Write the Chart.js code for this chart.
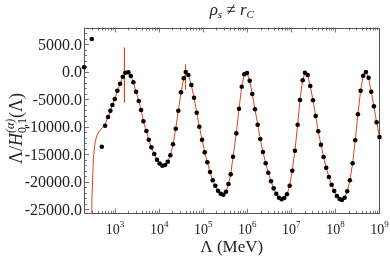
<!DOCTYPE html>
<html>
<head>
<meta charset="utf-8">
<script src="https://cdn.jsdelivr.net/npm/chart.js@4.4.1/dist/chart.umd.min.js"></script>
<style>
  html, body { margin: 0; padding: 0; background: #fff; }
  #wrap { width: 390px; height: 256px; }
</style>
</head>
<body>
<div id="wrap"><canvas id="chart" width="390" height="256"></canvas></div>
<script>
// Lambda / H(Lambda) oscillation plot: black sample points over a red curve, log x axis.

const X_MIN = 197;
const X_MAX = 1e9;
const Y_MIN = -25850;
const Y_MAX = 8070;
const Y_TICKS = [5000, 0, -5000, -10000, -15000, -20000, -25000];
const X_DECADES = [3, 4, 5, 6, 7, 8, 9];

// sampled points (black dots)
const DOT_X = [
  198, 297, 499,
  593, 693, 782, 869, 984, 1127, 1297, 1495, 1713, 2003, 2271, 2601, 2994, 3446, 3888, 4385,
  5130, 5812, 6656, 7740, 8910, 10210, 11830, 13620, 15670, 17950, 20660, 23780, 27230,
  31380, 36130, 40100, 45920, 53720, 61820, 71220, 81570, 93960, 108200, 123900, 142600,
  164200, 188000, 216500, 249300, 285600, 328800, 374800, 420600, 474700, 563800, 649000,
  747100, 855600, 984900, 1133000, 1298000, 1495000, 1721000, 1971000, 2270000, 2614000,
  2994000, 3446000, 3968000, 4547000, 5236000, 6029000, 6904000, 7945000, 9150000,
  10480000, 12070000, 13900000, 15670000, 18040000, 20330000, 23420000, 26830000,
  30900000, 35580000, 40740000, 46910000, 53970000, 61800000, 71220000, 82020000,
  93970000, 108200000, 124500000, 140300000, 161700000, 185300000, 213300000, 245500000,
  281200000, 323700000, 372700000, 426700000, 491800000, 566200000, 648900000, 746500000,
  859000000, 1000000000,
];
const DOT_Y = [
  820, 5980, -13650,
  -9820, -8240, -7090, -6050, -4960, -3440, -2170, -890, -160, -90, -770, -1910, -3630, -5320, -6960, -9020,
  -10790, -12370, -13760, -14980, -16020, -16710, -17110, -16980, -16380, -15210, -13210, -10370, -7090,
  -3740, -1180, -40, -580, -2410, -4720, -7450, -10000, -12370, -14670, -16490, -18260,
  -19770, -20750, -21660, -22210, -22390, -21850, -20440, -18680, -15470, -11210, -6720,
  -2720, -460, -220, -1620, -4050, -6830, -9640, -12240, -14610, -16670,
  -18380, -19950, -21230, -22210, -22940, -23230, -22990, -22320, -20750,
  -18020, -14380, -9640, -5140, -1550, -160, -580, -2590,
  -5190, -8050, -10840, -13280, -15520, -17470, -19170, -20570,
  -21720, -22630, -23180, -23360, -22940, -21770, -19770, -16670,
  -12480, -7740, -3440, -710, -40, -1080, -3630, -6290,
  -9200, -11900,
];

// continuous curve (red line), including the steep left branch and the two spikes
const LINE_X = [
  287, 297, 309, 322, 352, 391, 457, 521,
  593, 693, 782, 869, 984, 1127, 1297, 1495,
  1626, 1626, 1626, 1630,
  1713, 2003, 2271, 2601, 2994, 3446, 3888, 4385,
  5130, 5812, 6656, 7740, 8910, 10210, 11830, 13620, 15670, 17950, 20660, 23780, 27230,
  31380, 36130,
  39500, 39500, 39500, 39700,
  40100, 45920, 53720, 61820, 71220, 81570, 93960, 108200, 123900, 142600,
  164200, 188000, 216500, 249300, 285600, 328800, 374800, 420600, 474700, 563800, 649000,
  747100, 855600, 984900, 1133000, 1298000, 1495000, 1721000, 1971000, 2270000, 2614000,
  2994000, 3446000, 3968000, 4547000, 5236000, 6029000, 6904000, 7945000, 9150000,
  10480000, 12070000, 13900000, 15670000, 18040000, 20330000, 23420000, 26830000,
  30900000, 35580000, 40740000, 46910000, 53970000, 61800000, 71220000, 82020000,
  93970000, 108200000, 124500000, 140300000, 161700000, 185300000, 213300000, 245500000,
  281200000, 323700000, 372700000, 426700000, 491800000, 566200000, 648900000, 746500000,
  859000000, 1000000000,
];
const LINE_Y = [
  -30000, -23360, -19710, -15710, -12790, -11520, -10600, -10150,
  -9600, -8240, -7090, -6050, -4960, -3440, -2170, -890,
  -500, 4400, -5600, -400,
  -160, -90, -770, -1910, -3630, -5320, -6960, -9020,
  -10790, -12370, -13760, -14980, -16020, -16710, -17110, -16980, -16380, -15210, -13210, -10370, -7090,
  -3740, -1180,
  -400, 1350, -3200, -300,
  -40, -580, -2410, -4720, -7450, -10000, -12370, -14670, -16490, -18260,
  -19770, -20750, -21660, -22210, -22390, -21850, -20440, -18680, -15470, -11210, -6720,
  -2720, -460, -220, -1620, -4050, -6830, -9640, -12240, -14610, -16670,
  -18380, -19950, -21230, -22210, -22940, -23230, -22990, -22320, -20750,
  -18020, -14380, -9640, -5140, -1550, -160, -580, -2590,
  -5190, -8050, -10840, -13280, -15520, -17470, -19170, -20570,
  -21720, -22630, -23180, -23360, -22940, -21770, -19770, -16670,
  -12480, -7740, -3440, -710, -40, -1080, -3630, -6290,
  -9200, -11900,
];

const SERIF = '"Liberation Serif", "Times New Roman", serif';
const FRAME = "#555";
const TICK = "#777";
const RED = "#e4431f";

const toPoints = (xs, ys) => xs.map((x, i) => ({ x, y: ys[i] }));

// width of a list of text runs; a run may carry a stacked sub/superscript
function runsWidth(ctx, runs) {
  let w = 0;
  for (const r of runs) {
    ctx.font = r.font;
    let adv = ctx.measureText(r.t).width;
    if (r.stack) {
      ctx.font = r.stack.font;
      adv = Math.max(adv, ctx.measureText(r.stack.t).width);
    }
    w += adv;
  }
  return w;
}

function drawRuns(ctx, runs, x, base) {
  for (const r of runs) {
    ctx.font = r.font;
    ctx.fillText(r.t, x, base + (r.dy || 0));
    let adv = ctx.measureText(r.t).width;
    if (r.stack) {
      ctx.font = r.stack.font;
      ctx.fillText(r.stack.t, x, base + r.stack.dy);
      adv = Math.max(adv, ctx.measureText(r.stack.t).width);
    }
    x += adv;
  }
}

function drawCentered(ctx, runs, cx, base) {
  drawRuns(ctx, runs, cx - runsWidth(ctx, runs) / 2, base);
}

const axesPlugin = {
  id: "axesPlugin",
  beforeDatasetsDraw(chart) {
    const { ctx, chartArea: a, scales: { x, y } } = chart;
    ctx.save();
    ctx.strokeStyle = TICK;
    ctx.lineWidth = 1;
    ctx.beginPath();
    // log x ticks, bottom and top, pointing inward
    for (let e = 2; e <= 8; e++) {
      for (let m = 1; m <= 9; m++) {
        const v = m * Math.pow(10, e);
        if (v < X_MIN || v > X_MAX) continue;
        const len = m === 1 ? 5 : 3;
        const px = Math.round(x.getPixelForValue(v)) + 0.5;
        ctx.moveTo(px, a.bottom); ctx.lineTo(px, a.bottom - len);
        ctx.moveTo(px, a.top); ctx.lineTo(px, a.top + len);
      }
    }
    // y ticks every 1000, major every 5000
    for (let v = -25000; v <= 8000; v += 1000) {
      const len = v % 5000 === 0 ? 5 : 3;
      const py = Math.round(y.getPixelForValue(v)) + 0.5;
      ctx.moveTo(a.left, py); ctx.lineTo(a.left + len, py);
    }
    ctx.stroke();
    ctx.strokeStyle = FRAME;
    ctx.strokeRect(Math.round(a.left) + 0.5, Math.round(a.top) + 0.5,
      Math.round(a.right - a.left) - 1, Math.round(a.bottom - a.top) - 1);
    ctx.restore();
  },
  afterDraw(chart) {
    const { ctx, chartArea: a, scales: { x, y } } = chart;
    ctx.save();
    ctx.fillStyle = "#222";
    ctx.textBaseline = "alphabetic";

    // y tick labels
    ctx.font = `16px ${SERIF}`;
    ctx.textAlign = "right";
    for (const v of Y_TICKS) {
      ctx.fillText(v.toFixed(1), a.left - 2, y.getPixelForValue(v) + 5.5);
    }

    // x tick labels 10^n
    ctx.textAlign = "left";
    for (const e of X_DECADES) {
      const px = x.getPixelForValue(Math.pow(10, e));
      drawCentered(ctx, [
        { t: "10", font: `14px ${SERIF}` },
        { t: String(e), font: `9px ${SERIF}`, dy: -7 },
      ], px, 234);
    }

    // x axis title
    drawCentered(ctx, [{ t: "\u039B (MeV)", font: `17px ${SERIF}` }], (a.left + a.right) / 2, 252);

    // chart title
    drawCentered(ctx, [
      { t: "\u03C1", font: `italic 17px ${SERIF}` },
      { t: "s", font: `italic 11px ${SERIF}`, dy: 3 },
      { t: " \u2260 ", font: `17px ${SERIF}` },
      { t: "r", font: `italic 17px ${SERIF}` },
      { t: "C", font: `italic 11px ${SERIF}`, dy: 3 },
    ], (a.left + a.right) / 2, 15);

    // y axis title, rotated
    ctx.translate(22, 128.5);
    ctx.rotate(-Math.PI / 2);
    drawCentered(ctx, [
      { t: "\u039B/", font: `18px ${SERIF}` },
      { t: "H", font: `italic 18px ${SERIF}` },
      { t: "(\u03B1)", font: `italic 12px ${SERIF}`, dy: -8,
        stack: { t: "0,1", font: `12px ${SERIF}`, dy: 4 } },
      { t: "(\u039B)", font: `18px ${SERIF}` },
    ], 0, 0);
    ctx.restore();
  },
};

new Chart(document.getElementById("chart").getContext("2d"), {
  type: "scatter",
  data: {
    datasets: [
      {
        label: "points",
        data: toPoints(DOT_X, DOT_Y),
        showLine: false,
        pointRadius: 2.3,
        pointBackgroundColor: "#000",
        pointBorderColor: "#000",
        pointBorderWidth: 0,
        clip: false,
      },
      {
        label: "curve",
        data: toPoints(LINE_X, LINE_Y),
        showLine: true,
        pointRadius: 0,
        borderColor: RED,
        borderWidth: 1,
        tension: 0,
      },
    ],
  },
  options: {
    responsive: false,
    animation: false,
    events: [],
    layout: { padding: { left: 0, right: 10.5, top: 27.5, bottom: 0 } },
    plugins: { legend: { display: false }, tooltip: { enabled: false } },
    scales: {
      x: {
        type: "logarithmic",
        min: X_MIN,
        max: X_MAX,
        grid: { display: false, drawTicks: false },
        border: { display: false },
        ticks: { display: false },
        afterFit: (s) => { s.height = 42.3; },
      },
      y: {
        type: "linear",
        min: Y_MIN,
        max: Y_MAX,
        grid: { display: false, drawTicks: false },
        border: { display: false },
        ticks: { display: false },
        afterFit: (s) => { s.width = 84; },
      },
    },
  },
  plugins: [axesPlugin],
});
</script>
</body>
</html>
